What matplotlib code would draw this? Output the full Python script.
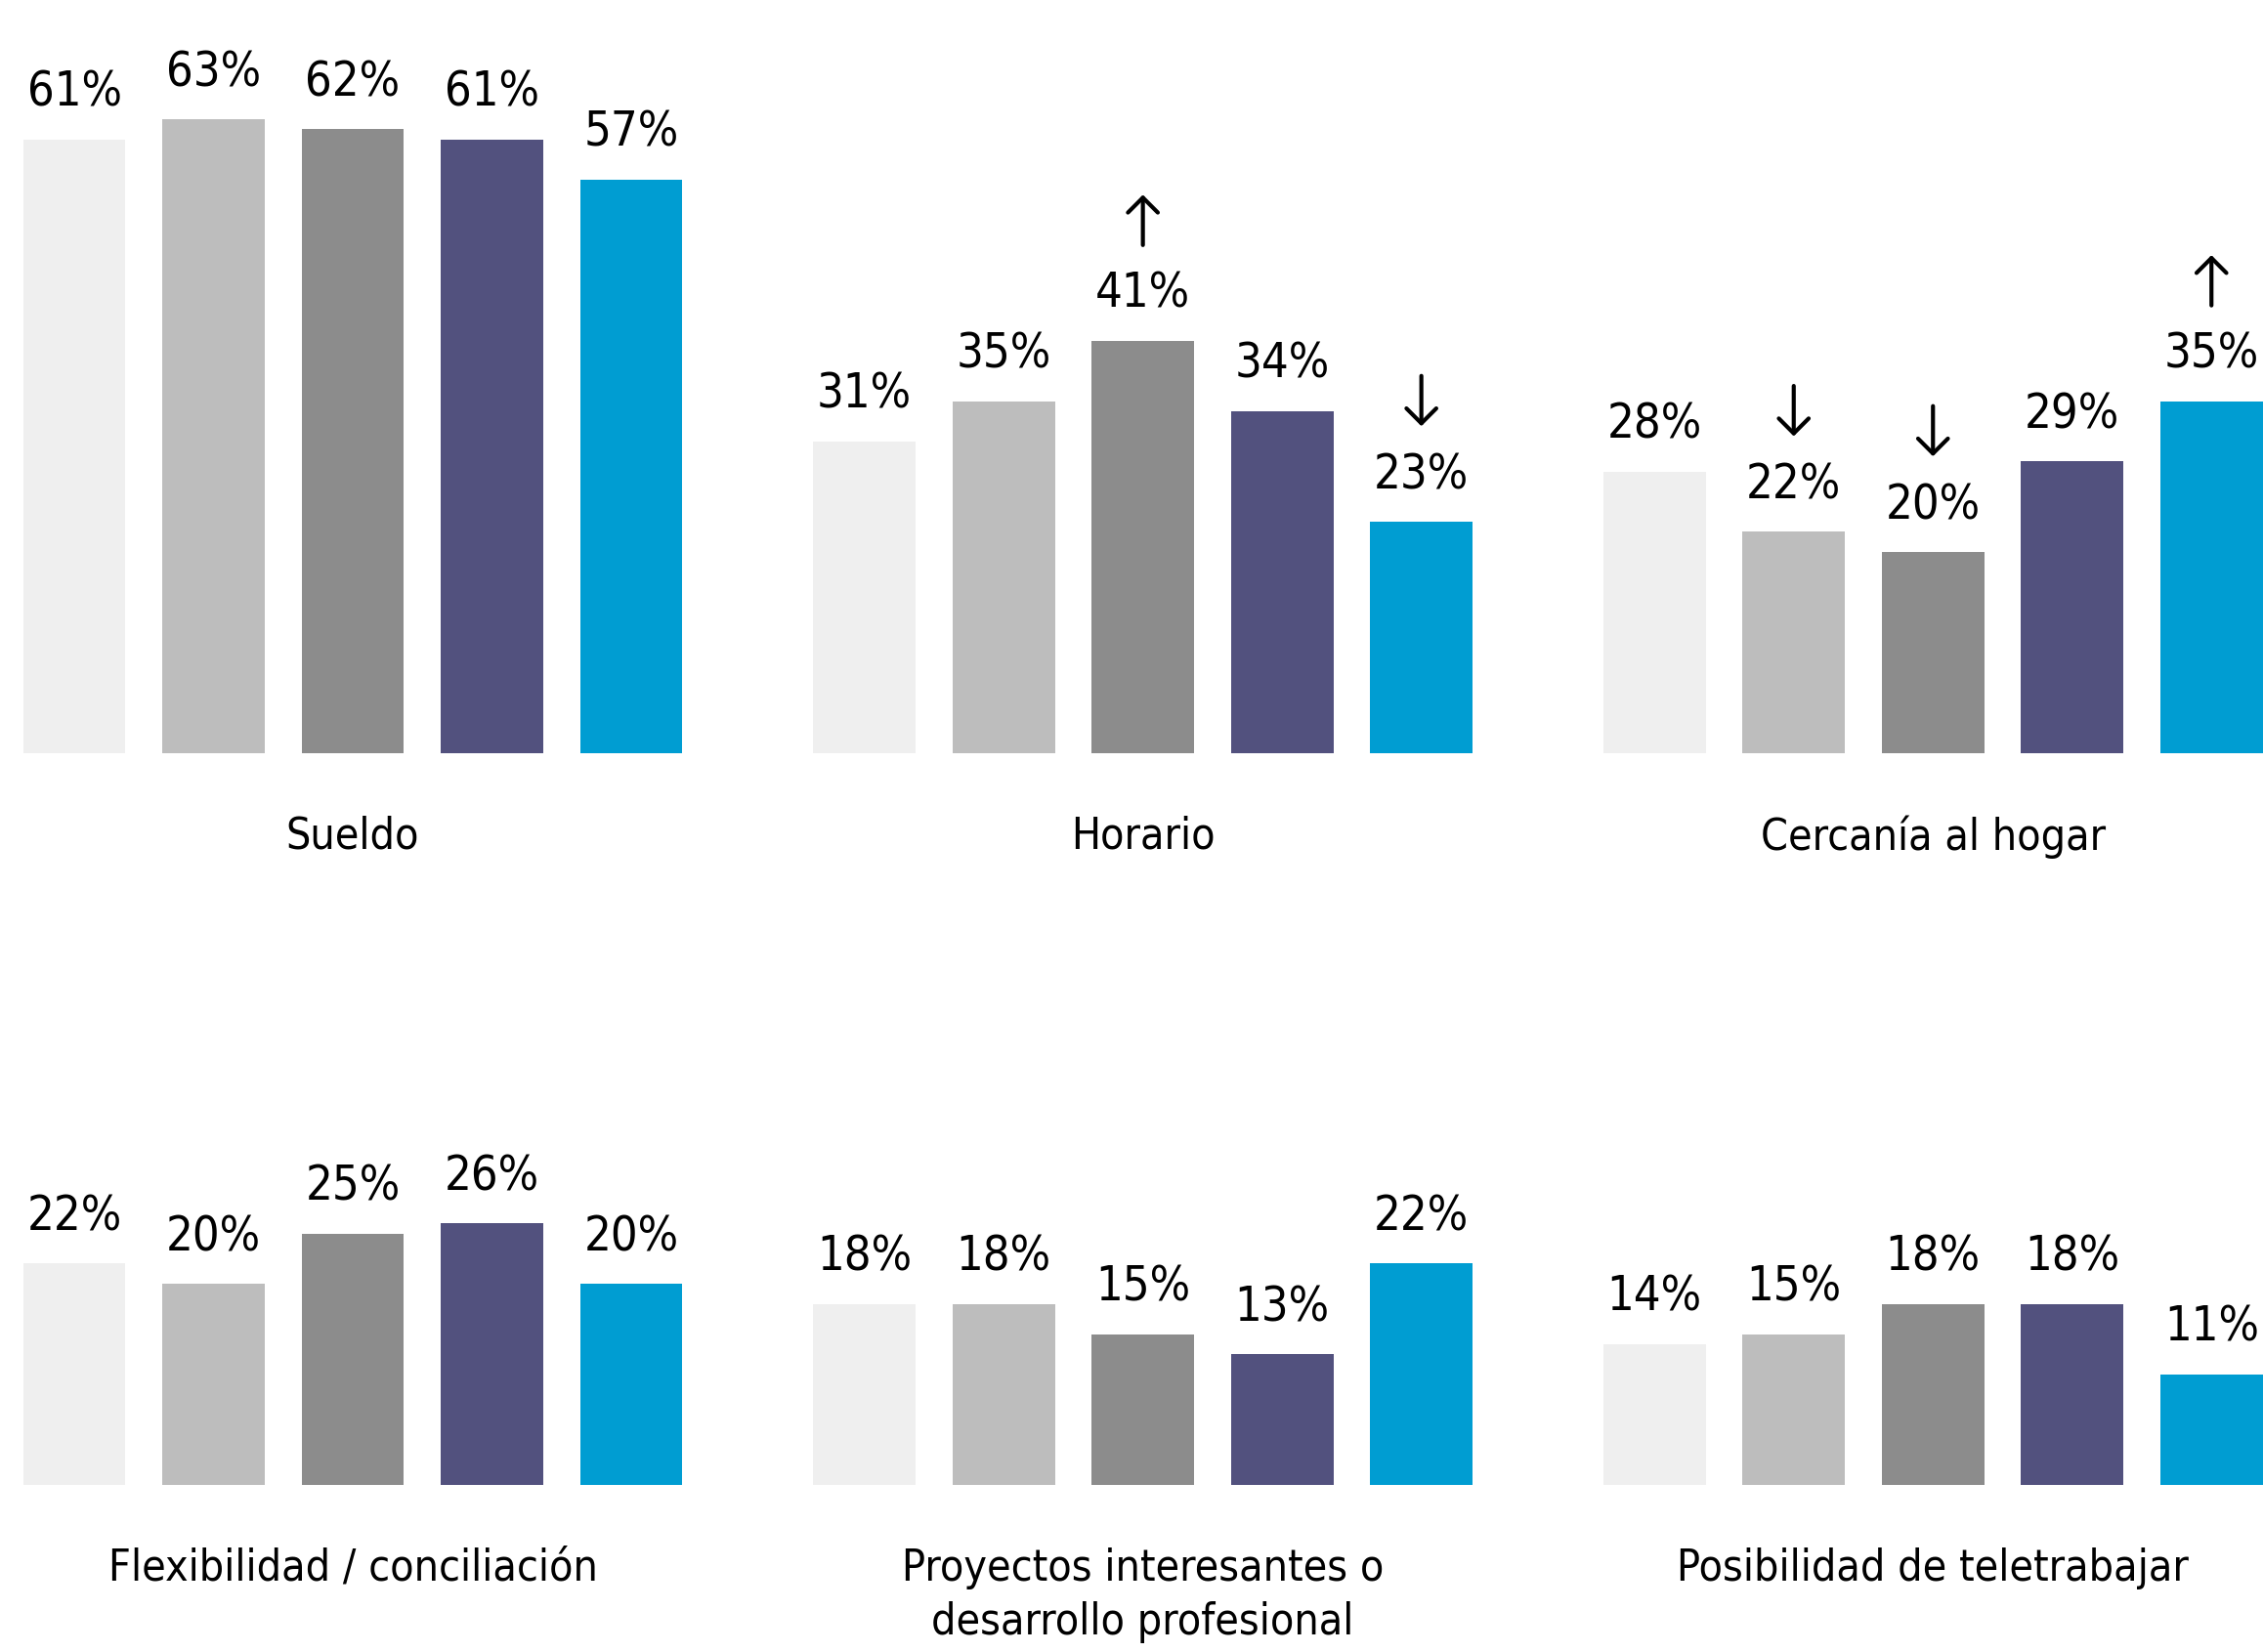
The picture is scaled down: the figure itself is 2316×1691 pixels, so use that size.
import matplotlib
matplotlib.use("Agg")
import matplotlib.pyplot as plt

# data
categories = ["Sueldo", "Horario", "Cercanía al hogar",
              "Flexibilidad / conciliación",
              "Proyectos interesantes o\ndesarrollo profesional",
              "Posibilidad de teletrabajar"]
sueldo = [61, 63, 62, 61, 57]
horario = [31, 35, 41, 34, 23]
cercania = [28, 22, 20, 29, 35]
flexibilidad = [22, 20, 25, 26, 20]
proyectos = [18, 18, 15, 13, 22]
teletrabajo = [14, 15, 18, 18, 11]
series = [sueldo, horario, cercania, flexibilidad, proyectos, teletrabajo]

# arrows: panel index -> {bar index: "up"/"down"}
arrows = {1: {2: "up", 4: "down"},
          2: {1: "down", 2: "down", 4: "up"}}

colors = ["#efefef", "#bdbdbd", "#8c8c8c", "#52517e", "#009dd2"]

plt.rcParams["font.family"] = ["Liberation Sans Narrow", "DejaVu Sans"]
plt.rcParams["font.stretch"] = "condensed"

W, H = 2316, 1691
fig = plt.figure(figsize=(W / 100, H / 100), dpi=100)

px_per_unit = 10.3
ymax = 70
ax_w = 712.5
lefts = [4.8, 813.4, 1622.0]
baselines = [771, 1520]  # from top, pixels
fs = 35

for i, vals in enumerate(series):
    row, col = divmod(i, 3)
    bottom = (H - baselines[row]) / H
    height = ymax * px_per_unit / H
    ax = fig.add_axes([lefts[col] / W, bottom, ax_w / W, height])
    x = range(len(vals))
    ax.bar(x, vals, width=0.735, color=colors)
    ax.set_xlim(-0.5, 4.5)
    ax.set_ylim(0, ymax)
    ax.axis("off")
    for xi, v in zip(x, vals):
        ax.text(xi, v + 3.3, f"{v}%", ha="center", va="baseline",
                fontsize=fs, color="black", clip_on=False)
    for xi, d in arrows.get(i, {}).items():
        v = vals[xi]
        lo, hi = v + 9.5, v + 14.5
        if d == "up":
            xy, xyt = (xi, hi), (xi, lo)
        else:
            xy, xyt = (xi, lo), (xi, hi)
        ax.annotate("", xy=xy, xytext=xyt, annotation_clip=False,
                    arrowprops=dict(arrowstyle="->,head_length=0.55,head_width=0.55",
                                    lw=3, color="black", mutation_scale=20,
                                    shrinkA=0, shrinkB=0))
    ax.text(2, -6.2, categories[i], ha="center", va="top", fontsize=32,
            linespacing=1.35, color="black", clip_on=False)

fig.savefig("out.png", dpi=100, facecolor="white")
